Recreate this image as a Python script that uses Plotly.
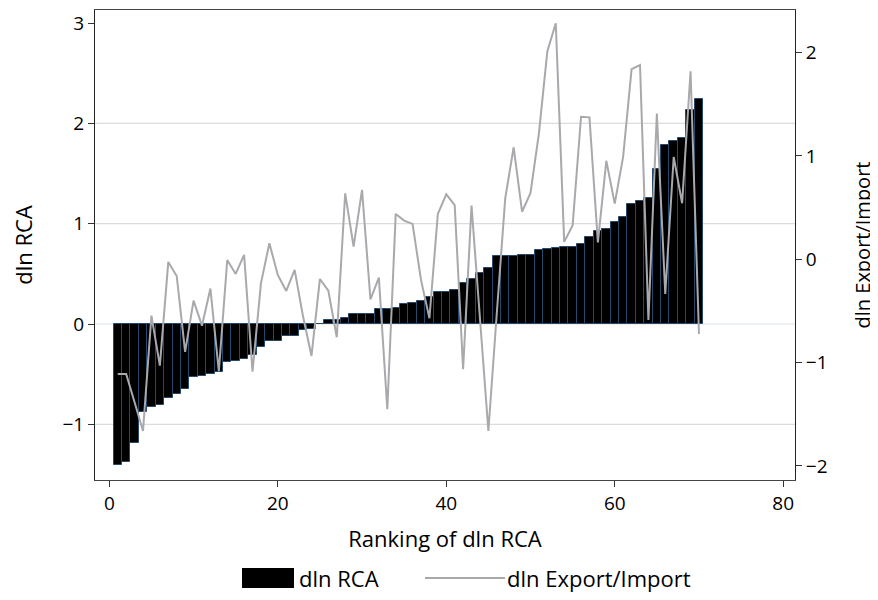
import plotly.graph_objects as go

rank = list(range(1, 71))
dln_rca = [-1.41, -1.38, -1.19, -0.88, -0.83, -0.81, -0.74, -0.70, -0.65, -0.53,
           -0.515, -0.50, -0.475, -0.38, -0.37, -0.35, -0.31, -0.226, -0.173, -0.166,
           -0.116, -0.116, -0.056, -0.05, 0.005, 0.035, 0.04, 0.055, 0.095, 0.096,
           0.103, 0.148, 0.15, 0.156, 0.20, 0.206, 0.226, 0.274, 0.316, 0.316,
           0.339, 0.405, 0.449, 0.512, 0.558, 0.674, 0.678, 0.678, 0.691, 0.691,
           0.741, 0.748, 0.761, 0.764, 0.764, 0.797, 0.870, 0.930, 0.950, 1.020,
           1.063, 1.199, 1.223, 1.252, 1.542, 1.781, 1.821, 1.857, 2.136, 2.243]
dln_ex_im = [-1.11, -1.11, -1.385, -1.662, -0.546, -1.03, -0.026, -0.162, -0.897, -0.40,
             -0.643, -0.284, -1.084, -0.007, -0.142, 0.042, -1.089, -0.233, 0.155, -0.152,
             -0.307, -0.103, -0.555, -0.936, -0.191, -0.304, -0.755, 0.638, 0.122, 0.671,
             -0.388, -0.178, -1.452, 0.439, 0.374, 0.342, -0.20, -0.571, 0.439, 0.629,
             0.525, -1.064, 0.519, -0.57, -1.663, -0.52, 0.590, 1.084, 0.460, 0.642,
             1.219, 2.015, 2.284, 0.168, 0.328, 1.38, 1.374, 0.164, 0.953, 0.539,
             0.994, 1.84, 1.88, -0.588, 1.41, -0.336, 0.99, 0.542, 1.82, -0.723]

xticks = [0, 20, 40, 60, 80]
yticks_left = [-1, 0, 1, 2, 3]
yticks_right = [-2, -1, 0, 1, 2]
grid_vals = [-1, 0, 1, 2]

FONT = "Open Sans"
OFF = 8  # page body margin
W, H = 870, 592
L, R, T, B = 87, 83, 2, 120
PW, PH = W - L - R, H - T - B


def px(x):
    return (x - OFF - L) / PW


def py(y):
    return (H - B - (y - OFF)) / PH


fig = go.Figure()
fig.add_trace(go.Bar(x=rank, y=dln_rca, name="dln RCA", width=1.0,
                     marker=dict(color="black", line=dict(color="#24496b", width=1)),
                     showlegend=False))
fig.add_trace(go.Scatter(x=rank, y=dln_ex_im, name="dln Export/Import", mode="lines",
                         line=dict(color="#a9a9ad", width=2), yaxis="y2",
                         showlegend=False))

shapes = []
for g in grid_vals:
    shapes.append(dict(type="line", xref="paper", yref="y", x0=0, x1=1, y0=g, y1=g,
                       line=dict(color="#dde5e9" if g == 0 else "#dcdcdc", width=1.2),
                       layer="below"))
# manual legend
shapes.append(dict(type="rect", xref="paper", yref="paper", x0=px(242), x1=px(294),
                   y0=py(588), y1=py(568), fillcolor="black", line=dict(width=0)))
shapes.append(dict(type="line", xref="paper", yref="paper", x0=px(425), x1=px(505),
                   y0=py(578), y1=py(578), line=dict(color="#a9a9ad", width=2)))

annotations = [
    dict(text="dln RCA", xref="paper", yref="paper", x=px(297), y=py(578),
         xanchor="left", yanchor="middle", showarrow=False,
         font=dict(size=22, color="black", family=FONT)),
    dict(text="dln Export/Import", xref="paper", yref="paper", x=px(505), y=py(578),
         xanchor="left", yanchor="middle", showarrow=False,
         font=dict(size=22, color="black", family=FONT)),
]

fig.update_layout(
    width=W, height=H,
    margin=dict(l=L, r=R, t=T, b=B),
    plot_bgcolor="white", paper_bgcolor="white",
    font=dict(family=FONT, size=19, color="black"),
    bargap=0,
    shapes=shapes, annotations=annotations,
    xaxis=dict(range=[-1.7, 81.4], tickvals=xticks, ticks="outside", ticklen=6,
               tickcolor="#333", showgrid=False, zeroline=False, automargin=False,
               showline=True, linecolor="#444", linewidth=1, mirror=True,
               title=dict(text="Ranking of dln RCA", standoff=16,
                          font=dict(family=FONT, size=22, color="black"))),
    yaxis=dict(range=[-1.555, 3.13], tickvals=yticks_left, ticks="outside", ticklen=6,
               tickcolor="#333", showgrid=False, zeroline=False, automargin=False,
               showline=True, linecolor="#222", linewidth=1,
               title=dict(text="dln RCA", standoff=25,
                          font=dict(family=FONT, size=22, color="black"))),
    yaxis2=dict(range=[-2.137, 2.413], tickvals=yticks_right, ticks="outside", ticklen=6,
                tickcolor="#333", overlaying="y", side="right", showgrid=False,
                zeroline=False, automargin=False,
                showline=True, linecolor="#222", linewidth=1,
                title=dict(text="dln Export/Import", standoff=29,
                           font=dict(family=FONT, size=20, color="black"))),
)

fig.write_html("out.html")
